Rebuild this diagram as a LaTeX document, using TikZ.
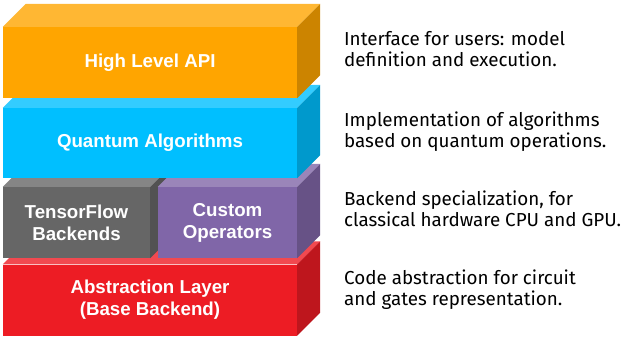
\documentclass[tikz,border=0pt]{standalone}
\usepackage{fontspec}
\setmainfont{Fira Sans}
\newfontfamily\labelfont{Liberation Sans}
\definecolor{apiorange}{HTML}{FFA500}
\definecolor{algblue}{HTML}{00BFFF}
\definecolor{tfgray}{HTML}{666666}
\definecolor{oppurple}{HTML}{8066A8}
\definecolor{layerred}{HTML}{ED1C24}
% top and right faces of a slab
\newcommand\slabsides[2]{%
  \fill[#2!80!white] (#1.north west) -- ++(23,-23) -- ([shift={(23,-23)}]#1.north east) -- (#1.north east) -- cycle;
  \fill[#2!80!black] (#1.north east) -- ++(23,-23) -- ([shift={(23,-23)}]#1.south east) -- (#1.south east) -- cycle;}
\begin{document}
\begin{tikzpicture}[x=1pt,y=-1pt,
  slab/.style={inner sep=0pt,minimum height=71,align=center,text=white,
    font=\labelfont\bfseries\fontsize{18.7}{22}\selectfont},
  note/.style={inner sep=0pt,anchor=base west,align=left,
    font=\fontsize{18.8}{20.3}\selectfont}]
\useasboundingbox (0,0) rectangle (624,338);

\node[slab,fill=layerred,minimum width=294] (layer) at (150,300) {Abstraction Layer\\(Base Backend)};
\slabsides{layer}{layerred}
\node[slab,fill=tfgray,minimum width=147] (tf) at (76.5,222.5) {TensorFlow\\Backends};
\slabsides{tf}{tfgray}
\node[slab,fill=oppurple,minimum width=139] (ops) at (227.5,222.5) {Custom\\Operators};
\slabsides{ops}{oppurple}
\node[slab,fill=algblue,minimum width=294,minimum height=70] (alg) at (150,143) {Quantum Algorithms};
\slabsides{alg}{algblue}
\node[slab,fill=apiorange,minimum width=294] (api) at (150,62.5) {High Level API};
\slabsides{api}{apiorange}

\node[note] (d1) at (344,66) {Interface for users: model\\definition and execution.};
\node[note] (d2) at (344,147) {Implementation of algorithms\\based on quantum operations.};
\node[note] (d3) at (344,226) {Backend specialization, for\\classical hardware CPU and GPU.};
\node[note] (d4) at (344,305) {Code abstraction for circuit\\and gates representation.};

\end{tikzpicture}
\end{document}
